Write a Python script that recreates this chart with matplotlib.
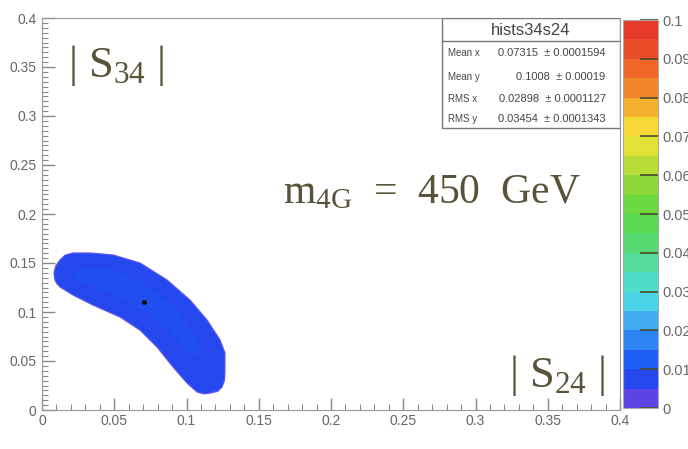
import matplotlib
matplotlib.use("Agg")
import matplotlib.pyplot as plt
import matplotlib.cm as cm
from matplotlib.colors import ListedColormap, BoundaryNorm
from matplotlib.ticker import MultipleLocator, FuncFormatter
from matplotlib.patches import Rectangle
import numpy as np

plt.rcParams['font.family'] = ['Liberation Sans', 'DejaVu Sans']
plt.rcParams['mathtext.fontset'] = 'custom'
plt.rcParams['mathtext.rm'] = 'Liberation Serif'
plt.rcParams['mathtext.default'] = 'rm'

# stats box
hist_name = "hists34s24"
stat_names = ["Mean x", "Mean y", "RMS x", "RMS y"]
stat_values = ["0.07315", "0.1008", "0.02898", "0.03454"]
stat_errors = ["0.0001594", "0.00019", "0.0001127", "0.0001343"]

# outer contour of the |S24| vs |S34| distribution
outer_x = [0.0083, 0.0095, 0.0125, 0.0160, 0.0215, 0.0332, 0.0491, 0.0678,
           0.0865, 0.1024, 0.1142, 0.1232, 0.1266, 0.1266, 0.1262, 0.1246,
           0.1215, 0.1163, 0.1120, 0.1073, 0.1003, 0.0907, 0.0796, 0.0678,
           0.0540, 0.0353, 0.0215, 0.0125, 0.0103, 0.0090]
outer_y = [0.1398, 0.1470, 0.1531, 0.1580, 0.1602, 0.1602, 0.1582, 0.1500,
           0.1327, 0.1122, 0.0918, 0.0714, 0.0582, 0.0378, 0.0300, 0.0235,
           0.0190, 0.0173, 0.0165, 0.0184, 0.0276, 0.0439, 0.0643, 0.0816,
           0.0949, 0.1071, 0.1173, 0.1255, 0.1290, 0.1327]
outer_level = 0.007

# inner (higher) contour band
inner_x = [0.025, 0.050, 0.072, 0.092, 0.106, 0.110,
           0.104, 0.090, 0.072, 0.050, 0.030, 0.022]
inner_y = [0.145, 0.143, 0.128, 0.103, 0.075, 0.058,
           0.055, 0.080, 0.100, 0.118, 0.128, 0.135]
inner_level = 0.012

peak_x = [0.0706]
peak_y = [0.1105]

# z palette (ROOT-like), bottom to top
z_levels = np.linspace(0, 0.1, 21)
palette = ['#5a44e6', '#2448ee', '#1e5ef2', '#2e84f2', '#40aef0',
           '#4cd4e8', '#50dcc8', '#56dc9c', '#58da72', '#5ad850',
           '#6cd840', '#8ed83a', '#b8dc38', '#e2e236', '#f8d836',
           '#f6b030', '#f2862a', '#ee6628', '#ea4c28', '#e63a28']
z_ticks = np.linspace(0, 0.1, 11)

cmap = ListedColormap(palette)
norm = BoundaryNorm(z_levels, cmap.N)

fig = plt.figure(figsize=(6.88, 4.49), dpi=100)
ax = fig.add_axes([42/688, 39/449, 578/688, 392/449])

ax.fill(outer_x, outer_y, facecolor=cmap(norm(outer_level)),
        edgecolor='#5a55f0', linewidth=0.9, joinstyle='round')
ax.fill(inner_x, inner_y, facecolor=cmap(norm(inner_level)),
        edgecolor='none', alpha=0.35)
ax.plot(peak_x, peak_y, 'o', color='#111', markersize=2.5)

ax.set_xlim(0, 0.4)
ax.set_ylim(0, 0.4)
fmt = FuncFormatter(lambda v, p: '%g' % round(v, 4))
ax.xaxis.set_major_locator(MultipleLocator(0.05))
ax.xaxis.set_minor_locator(MultipleLocator(0.01))
ax.yaxis.set_major_locator(MultipleLocator(0.05))
ax.yaxis.set_minor_locator(MultipleLocator(0.005))
ax.xaxis.set_major_formatter(fmt)
ax.yaxis.set_major_formatter(fmt)
ax.tick_params(which='both', direction='in', color='#888', labelcolor='#666',
               labelsize=10)
ax.tick_params(which='major', length=9, width=1)
ax.tick_params(which='minor', length=4.5, width=0.8)
ax.tick_params(axis='x', pad=3)
ax.tick_params(axis='y', pad=4)
for s in ax.spines.values():
    s.set_color('#999')

# stats box
ax.add_patch(Rectangle((0.692, 0.719), 0.308, 0.281, transform=ax.transAxes,
                       facecolor='white', edgecolor='#777', linewidth=1, zorder=5))
ax.plot([0.692, 1.0], [0.941, 0.941], transform=ax.transAxes, color='#777',
        linewidth=1, zorder=6)
ax.text(0.846, 0.969, hist_name, transform=ax.transAxes, ha='center',
        va='center', fontsize=12, color='#444', zorder=7)
row_y = [0.910, 0.849, 0.793, 0.742]
for name, val, err, yy in zip(stat_names, stat_values, stat_errors, row_y):
    ax.text(0.703, yy, name, transform=ax.transAxes, ha='left', va='center',
            fontsize=7, color='#444', zorder=7)
    ax.text(0.975, yy, val + '  \u00b1 ' + err, transform=ax.transAxes,
            ha='right', va='center', fontsize=8, color='#444', zorder=7)

# annotations
txt_color = '#585338'
ax.text(0.045, 0.849, r'| $S_{34}$ |', transform=ax.transAxes,
        fontsize=32, family='Liberation Serif', color=txt_color, va='baseline')
ax.text(0.417, 0.528, r'$\mathrm{m}_{4G}$  =  450  GeV', transform=ax.transAxes,
        fontsize=30, family='Liberation Serif', color=txt_color, va='baseline')
ax.text(0.808, 0.0587, r'| $S_{24}$ |', transform=ax.transAxes,
        fontsize=32, family='Liberation Serif', color=txt_color, va='baseline')

# colour bar
cax = fig.add_axes([623/688, 41/449, 35/688, 388/449])
cb = fig.colorbar(cm.ScalarMappable(norm=norm, cmap=cmap), cax=cax,
                  ticks=z_ticks)
cb.ax.yaxis.set_major_formatter(fmt)
cb.outline.set_edgecolor('#aaa')
cax.tick_params(direction='in', length=13, width=1.2, color='#4a4a2a',
                labelsize=10.5, labelcolor='#666', pad=3)
cax.minorticks_off()

fig.savefig('out.png', dpi=100)
